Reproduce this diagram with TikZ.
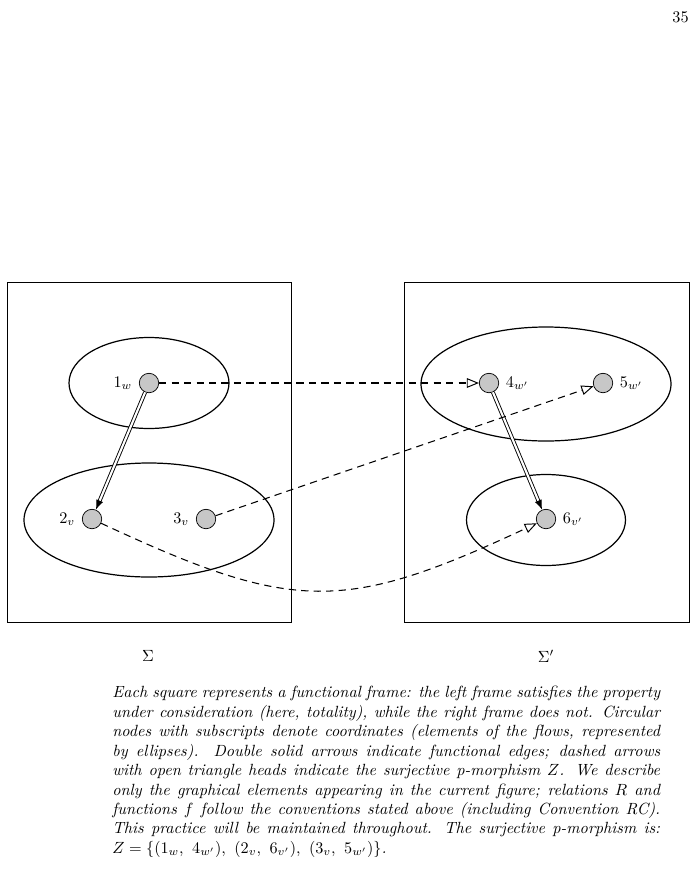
\documentclass[tikz,border=0pt]{standalone}
\usetikzlibrary{arrows.meta}
\begin{document}
\begin{tikzpicture}[x=0.617pt,y=-0.617pt,
  frame/.style={draw,line width=0.6pt},
  flow/.style={draw,line width=0.75pt},
  pt/.style={circle,draw,line width=0.45pt,fill=black!22,minimum size=12pt,inner sep=0pt},
  zmap/.style={dashed,dash pattern=on 4.5pt off 3.2pt,line width=0.65pt,-{Triangle[open,length=7.5pt,width=6pt,line width=0.6pt]}},
  fedge/.style={double,double distance=1.3pt,line width=0.55pt,-{Latex[length=6pt,width=4.5pt]}},
  every label/.style={inner sep=3pt}]
\useasboundingbox (0,0) rectangle (699,891);
% page number
\node[anchor=base east,inner sep=0] (page) at (689,22) {35};
% frames
\draw[frame] (7,282) rectangle (291,622);
\draw[frame] (404,282) rectangle (689,622);
% flows
\draw[flow] (149,383) ellipse [x radius=80, y radius=45.5];
\draw[flow] (149,520) ellipse [x radius=125, y radius=57];
\draw[flow] (546,384) ellipse [x radius=125, y radius=57];
\draw[flow] (546,520) ellipse [x radius=79.5, y radius=45.5];
% points
\node[pt,label={[label distance=1pt]left:$1_w$}] (n1) at (149,383) {};
\node[pt,label={[label distance=1pt]left:$2_v$}] (n2) at (92,519) {};
\node[pt,label={[label distance=1pt]left:$3_v$}] (n3) at (206,519) {};
\node[pt,label={[label distance=1pt]right:$4_{w'}$}] (n4) at (489,383) {};
\node[pt,label={[label distance=1pt]right:$5_{w'}$}] (n5) at (603,383) {};
\node[pt,label={[label distance=1pt]right:$6_{v'}$}] (n6) at (546,519) {};
% functional edges
\draw[fedge] (n1) -- (n2);
\draw[fedge] (n4) -- (n6);
% p-morphism
\draw[zmap] (n1) -- (n4);
\draw[zmap] (n3) -- (n5);
\draw[zmap] (n2) to[out=-25,in=205,looseness=1.25] (n6);
% frame names
\node (s1) at (148,656) {$\Sigma$};
\node (s2) at (546,656) {$\Sigma'$};
% caption
\node[anchor=north west,inner sep=0,text width=338pt,align=justify,font=\itshape] (cap) at (112,686) {Each square represents a functional frame: the left frame satisfies the property under consideration (here, totality), while the right frame does not. Circular nodes with subscripts denote coordinates (elements of the flows, represented by ellipses). Double solid arrows indicate functional edges; dashed arrows with open triangle heads indicate the surjective p-morphism $Z$. We describe only the graphical elements appearing in the current figure; relations $R$ and functions $f$ follow the conventions stated above (including Convention RC). This practice will be maintained throughout. The surjective p-morphism is: $Z=\{(1_w,\ 4_{w'}),\ (2_v,\ 6_{v'}),\ (3_v,\ 5_{w'})\}$.};
\end{tikzpicture}
\end{document}
